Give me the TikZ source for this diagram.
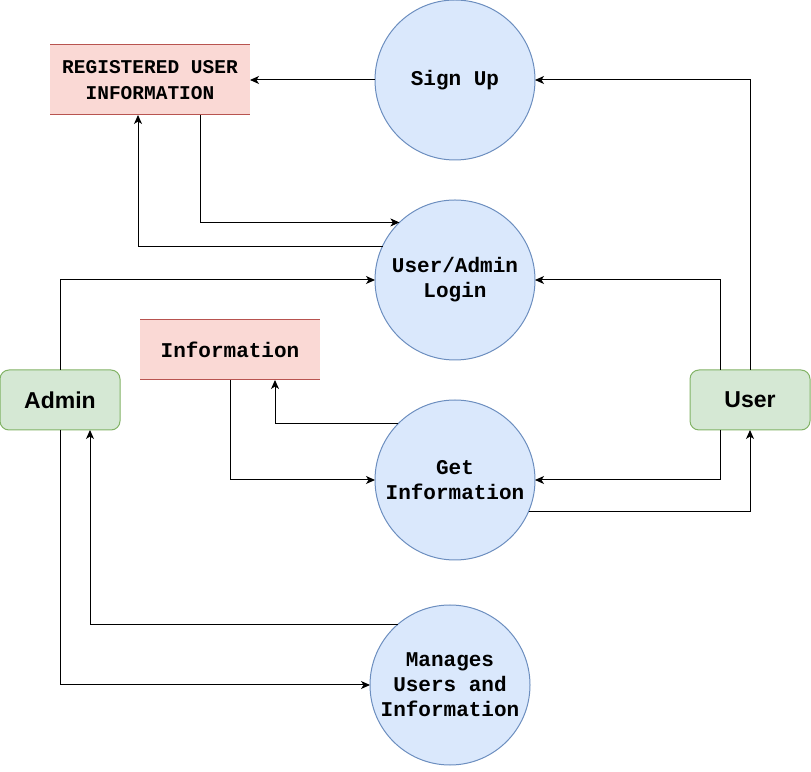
\documentclass[tikz,border=0pt]{standalone}
\usepackage{fontspec}
\setmainfont{Liberation Sans}
\newfontfamily\monofnt{Liberation Mono}
\usetikzlibrary{arrows.meta}
\definecolor{procfill}{HTML}{DAE8FC}
\definecolor{procdraw}{HTML}{6C8EBF}
\definecolor{storefill}{HTML}{FAD9D5}
\definecolor{storedraw}{HTML}{B85450}
\definecolor{entfill}{HTML}{D5E8D4}
\definecolor{entdraw}{HTML}{82B366}
\tikzset{
  proc/.style={circle, draw=procdraw, fill=procfill, line width=1pt, minimum size=160pt, inner sep=0pt, outer sep=0pt, align=center, font=\monofnt\bfseries\fontsize{21}{25}\selectfont},
  store/.style={fill=storefill, inner sep=0pt, outer sep=0pt, align=center, font=\monofnt\bfseries\fontsize{21}{25}\selectfont},
  storeline/.style={draw=storedraw, line width=1pt},
  ent/.style={draw=entdraw, fill=entfill, line width=1pt, rounded corners=9pt, minimum width=120pt, minimum height=60pt, inner sep=0pt, outer sep=0pt, font=\bfseries\fontsize{23}{27}\selectfont},
  flow/.style={line width=1pt, -{Stealth[length=9pt,width=8pt,inset=2.5pt]}}
}
\begin{document}
\begin{tikzpicture}[x=1pt,y=1pt]
\useasboundingbox (0,0) rectangle (811,771);
% processes
\node[proc] (signup) at (455,691) {Sign Up};
\node[proc] (login) at (455,491) {User/Admin\\Login};
\node[proc] (getinfo) at (455,291) {Get\\Information};
\node[proc] (manages) at (450,86) {Manages\\Users and\\Information};
% data stores
\node[store, minimum width=200pt, minimum height=70pt, font=\monofnt\bfseries\fontsize{19.5}{26}\selectfont] (reg) at (150,691) {REGISTERED USER\\INFORMATION};
\draw[storeline] (reg.north west) -- (reg.north east) (reg.south west) -- (reg.south east);
\node[store, minimum width=180pt, minimum height=60pt] (info) at (230,421) {Information};
\draw[storeline] (info.north west) -- (info.north east) (info.south west) -- (info.south east);
% entities
\node[ent] (admin) at (60,371) {Admin};
\node[ent] (user) at (750,371) {User};
% flows
\draw[flow] (user.north) |- (signup.east);
\draw[flow] (signup.west) -- (reg.east);
\draw[flow] ([xshift=50pt]reg.south) |- (login.134.5);
\draw[flow] (login.155.6) -| ([xshift=-12pt]reg.south);
\draw[flow] (admin.north) |- (login.west);
\draw[flow] ([xshift=-30pt]user.north) |- (login.east);
\draw[flow] (getinfo.135.6) -| ([xshift=45pt]info.south);
\draw[flow] (info.south) |- (getinfo.west);
\draw[flow] ([xshift=-30pt]user.south) |- (getinfo.east);
\draw[flow] (getinfo.-23.6) -| (user.south);
\draw[flow] (manages.131.4) -| ([xshift=30pt]admin.south);
\draw[flow] (admin.south) |- (manages.west);
\end{tikzpicture}
\end{document}
